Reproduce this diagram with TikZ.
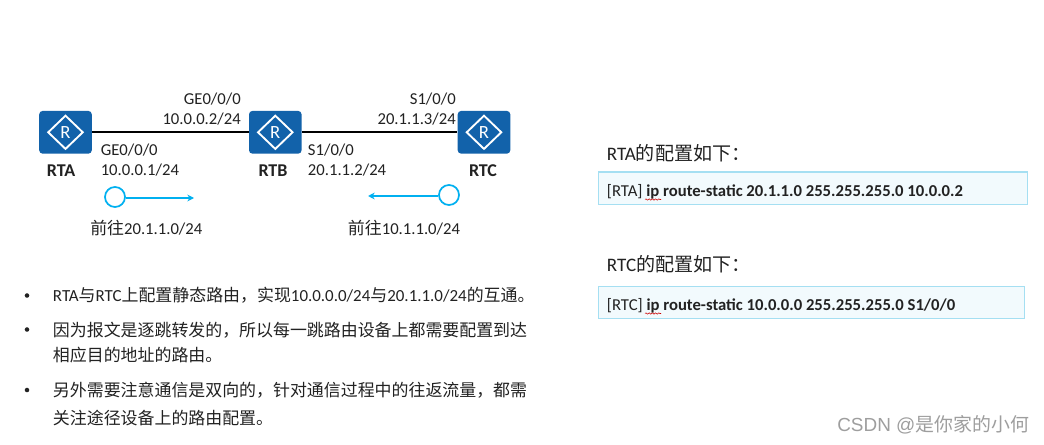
\documentclass[tikz,border=0pt]{standalone}
\usepackage{fontspec}
\setmainfont{Carlito}
\newfontfamily\cjk{Noto Sans CJK SC}
\newfontfamily\wmfont{Liberation Sans}
\usetikzlibrary{shapes.geometric,arrows.meta,decorations.pathmorphing}
\definecolor{routerblue}{HTML}{1262AA}
\definecolor{flowblue}{HTML}{00B0F0}
\definecolor{boxedge}{HTML}{A5DFF2}
\definecolor{boxfill}{HTML}{F2FAFD}
\definecolor{ink}{HTML}{222222}
\newcommand{\routerat}[5]{%
  \node[routerbody] (#1) at (#2,#3) {};
  \node[routerdiamond] (#1d) at (#1.center) {};
  \node[routerletter] (#1r) at (#1.center) {R};
  \node[routername] (#1n) at (#5,#3+44.7) {#4};
}
\tikzset{
  routerbody/.style={draw=none,fill=routerblue,rounded corners=2.5pt,minimum width=39.4pt,minimum height=32pt,inner sep=0pt},
  routerdiamond/.style={diamond,draw=white,line width=1.4pt,aspect=1,minimum width=26.5pt,minimum height=25.5pt,inner sep=0pt},
  routerletter/.style={text=white,font=\fontsize{14pt}{14pt}\selectfont,inner sep=0pt},
  routername/.style={anchor=base,font=\fontsize{13.5pt}{14pt}\selectfont\bfseries,text=ink,inner sep=0pt},
  lbl/.style={anchor=base west,font=\fontsize{12.5pt}{14pt}\selectfont,text=ink,inner sep=0pt},
  lblr/.style={lbl,anchor=base east},
  hop/.style={lbl,font=\fontsize{12.5pt}{14pt}\selectfont},
  body/.style={lbl,font=\fontsize{12.7pt}{14pt}\selectfont},
  dotb/.style={circle,fill=ink,minimum size=3.4pt,inner sep=0pt},
  heading/.style={lbl,font=\fontsize{14.3pt}{16pt}\selectfont},
  cfgbox/.style={draw=boxedge,fill=boxfill,line width=0.8pt,anchor=north west,inner sep=0pt},
  cfg/.style={lbl,font=\fontsize{12.5pt}{14pt}\selectfont},
  linkline/.style={draw=black,line width=1.6pt},
  flowdot/.style={circle,draw=flowblue,fill=white,line width=1.3pt,minimum size=15pt,inner sep=0pt},
  flowline/.style={draw=flowblue,line width=1.2pt,-{Stealth[length=5pt,width=5pt]}},
  squig/.style={draw=red!80!black,line width=0.4pt,decorate,decoration={snake,amplitude=0.5pt,segment length=2.4pt}},
}
\begin{document}
\begin{tikzpicture}[x=0.75pt,y=-0.75pt]
\useasboundingbox (0,0) rectangle (1044,445);
\fill[white] (0,0) rectangle (1044,445);
% routers
\routerat{rta}{65.5}{132.3}{RTA}{61}
\routerat{rtb}{275.3}{132.3}{RTB}{273}
\routerat{rtc}{484}{132.3}{RTC}{483}
\draw[linkline] (rta) -- (rtb);
\draw[linkline] (rtb) -- (rtc);
% interface labels
\node[lblr] (l1) at (241,105) {GE0/0/0};
\node[lblr] (l2) at (241,125) {10.0.0.2/24};
\node[lbl] (l3) at (100.5,156) {GE0/0/0};
\node[lbl] (l4) at (100.5,176) {10.0.0.1/24};
\node[lblr] (l5) at (456,105) {S1/0/0};
\node[lblr] (l6) at (456,125) {20.1.1.3/24};
\node[lbl] (l7) at (307.7,156) {S1/0/0};
\node[lbl] (l8) at (307.7,176) {20.1.1.2/24};
% flows
\node[flowdot] (fa) at (115,197) {};
\coordinate (fae) at (194,198);
\draw[flowline] (fa.east |- fae) -- (fae);
\node[flowdot] (fc) at (449,195) {};
\coordinate (fce) at (368,196);
\draw[flowline] (fc.west |- fce) -- (fce);
\node[hop] (h1) at (90,234) {{\cjk\fontsize{12.7pt}{14pt}\selectfont 前往}20.1.1.0/24};
\node[hop] (h2) at (347.7,234) {{\cjk\fontsize{12.7pt}{14pt}\selectfont 前往}10.1.1.0/24};
% bullets
\node[dotb] (b1) at (27,295.5) {};
\node[dotb] (b2) at (27,329.5) {};
\node[dotb] (b3) at (27,390) {};
\node[body] (t1) at (52.7,301.5) {RTA{\cjk 与}RTC{\cjk 上配置静态路由，实现}10.0.0.0/24{\cjk 与}20.1.1.0/24{\cjk 的互通。}};
\node[body] (t2) at (52.7,336) {\cjk 因为报文是逐跳转发的，所以每一跳路由设备上都需要配置到达};
\node[body] (t3) at (52.7,361.5) {\cjk 相应目的地址的路由。};
\node[body] (t4) at (52.7,396) {\cjk 另外需要注意通信是双向的，针对通信过程中的往返流量，都需};
\node[body] (t5) at (52.7,424.3) {\cjk 关注途径设备上的路由配置。};
% right config
\node[heading] (ha) at (606.7,161) {RTA{\cjk 的配置如下：}};
\node[cfgbox,minimum width=322pt,minimum height=24.2pt] (ba) at (597.5,171.5) {};
\node[cfg] (ca) at (606.7,196) {[RTA] \textbf{ip route-static 20.1.1.0 255.255.255.0 10.0.0.2}};
\node[heading] (hc) at (606.7,271) {RTC{\cjk 的配置如下：}};
\node[cfgbox,minimum width=320pt,minimum height=24.2pt] (bc) at (597.5,285.5) {};
\node[cfg] (cc) at (606.7,310) {[RTC] \textbf{ip route-static 10.0.0.0 255.255.255.0 S1/0/0}};
\coordinate (sa1) at (645,199.5); \coordinate (sa2) at (661,199.5);
\draw[squig] (sa1) -- (sa2);
\coordinate (sc1) at (645,313.5); \coordinate (sc2) at (661,313.5);
\draw[squig] (sc1) -- (sc2);
% watermark
\node[lbl,text=black!38,font=\fontsize{14.2pt}{16pt}\wmfont] (wm) at (837,431) {CSDN @{\cjk 是你家的小何}};
\end{tikzpicture}
\end{document}
